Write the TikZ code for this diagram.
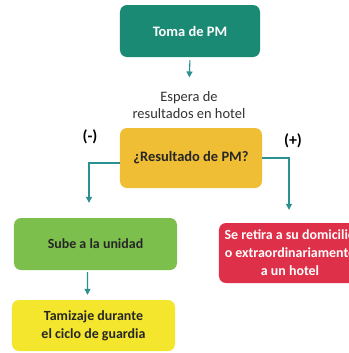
\documentclass[tikz,border=0pt]{standalone}
\usepackage{fontspec}
\setmainfont{Carlito}
\usetikzlibrary{arrows.meta}
\definecolor{cteal}{HTML}{1B8A74}
\definecolor{corange}{HTML}{EFBE34}
\definecolor{cgreen}{HTML}{7DBF4C}
\definecolor{cred}{HTML}{DF3049}
\definecolor{cyel}{HTML}{F4E62C}
\definecolor{cline}{HTML}{2A9090}
\begin{document}
\begin{tikzpicture}[x=1bp,y=-1bp,
  box/.style={rectangle,rounded corners=7bp,inner sep=2bp,align=center,font=\bfseries\fontsize{14.5}{18}\selectfont},
  conn/.style={draw=cline,line width=1.1bp,-{Triangle[length=6bp,width=6bp]}},
  sign/.style={font=\bfseries\fontsize{16}{18}\selectfont,text=black}]
\useasboundingbox (0,0) rectangle (349,353);
\clip (0,0) rectangle (349,353);
\fill[white] (0,0) rectangle (349,353);
\node[box,fill=cteal,text=white,minimum width=140bp,minimum height=52bp,font=\bfseries\fontsize{14.5}{18}\selectfont] (toma) at (190,31) {Toma de PM};
\node[align=center,font=\fontsize{14.5}{18}\selectfont,text=black!80] (espera) at (189,105) {Espera de\\resultados en hotel};
\node[box,fill=corange,text=black!85,minimum width=142bp,minimum height=60bp] (res) at (191,158) {¿Resultado de PM?};
\node[box,fill=cgreen,text=black!85,minimum width=163bp,minimum height=52bp,font=\bfseries\fontsize{14}{18}\selectfont] (sube) at (95.5,244) {Sube a la unidad};
\node[box,fill=cred,text=white,minimum width=142bp,minimum height=60bp,font=\bfseries\fontsize{14}{18}\selectfont] (retira) at (290,253) {Se retira a su domicilio\\o extraordinariamente\\a un hotel};
\node[box,fill=cyel,text=black!85,minimum width=163bp,minimum height=51bp,font=\bfseries\fontsize{14}{18}\selectfont] (tam) at (93.5,325.5) {Tamizaje durante\\el ciclo de guardia};
\node[sign] (neg) at (90,137) {(-)};
\node[sign] (pos) at (293,141) {(+)};
\draw[conn,shorten <=3bp,shorten >=10bp] (toma.south) -- (espera.north);
\draw[conn,shorten >=15bp] ([yshift=-5bp]res.west) -| ([xshift=-6.5bp]sube.north);
\draw[conn,shorten >=13bp] (res.east) -| ([xshift=-1bp]retira.north);
\draw[conn,shorten <=2bp,shorten >=5bp] ([xshift=-8bp]sube.south) -- ([xshift=-6bp]tam.north);
\end{tikzpicture}
\end{document}
